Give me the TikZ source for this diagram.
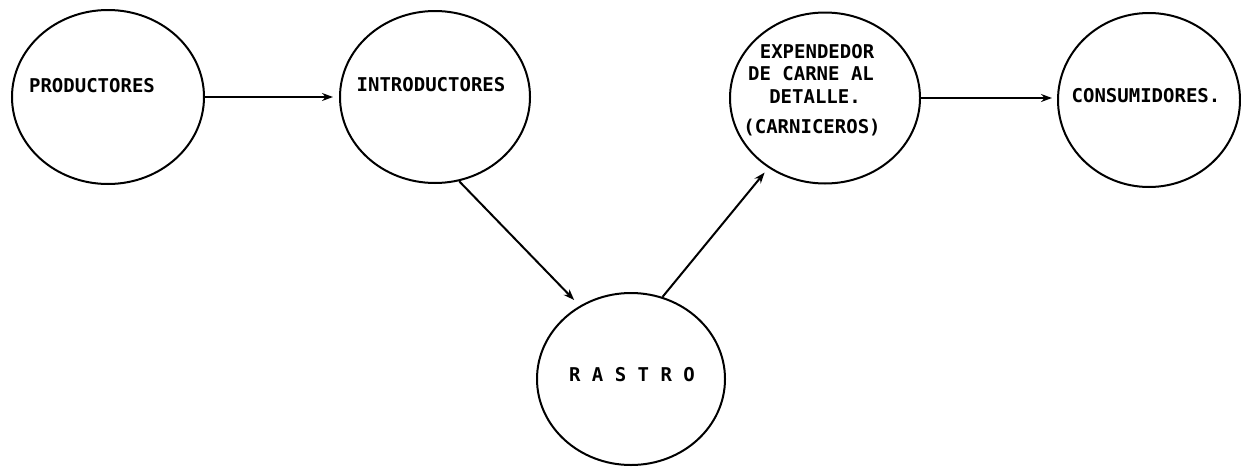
\documentclass[tikz,border=0pt]{standalone}
\usepackage{fontspec}
\setmonofont{DejaVu Sans Mono}
\usetikzlibrary{shapes.geometric,arrows.meta}
\begin{document}
\begin{tikzpicture}[x=1pt,y=-1pt,
  circ/.style={draw, ellipse, line width=2pt, inner sep=0pt},
  lbl/.style={font=\ttfamily\bfseries\fontsize{19}{23}\selectfont, inner sep=0pt},
  conn/.style={line width=2pt, -{Stealth[length=11pt,width=8pt]}},
  hconn/.style={conn, line width=2.6pt}]
\useasboundingbox (0,0) rectangle (1241,466);
\node[circ, minimum width=192, minimum height=174] (prod) at (108,97) {};
\node[circ, minimum width=190, minimum height=172] (intro) at (435,97) {};
\node[circ, minimum width=190, minimum height=171] (exp) at (825,98) {};
\node[circ, minimum width=182, minimum height=174] (cons) at (1149,100) {};
\node[circ, minimum width=188, minimum height=172] (rastro) at (631,379) {};
\node[lbl] (tprod) at (92,86) {PRODUCTORES};
\node[lbl] (tintro) at (431,85) {INTRODUCTORES};
\node[lbl] (tcons) at (1146,96) {CONSUMIDORES.};
\node[lbl] (trastro) at (632,375) {R A S T R O};
\node[lbl] (texp1) at (817,52) {EXPENDEDOR};
\node[lbl] (texp2) at (811,74) {DE CARNE AL};
\node[lbl] (texp3) at (815,97) {DETALLE.};
\node[lbl] (texp4) at (812,128) {(CARNICEROS)};
\draw[hconn, shorten >=6pt] (prod.east) -- (intro.west);
\draw[conn, shorten >=8pt] (intro.-74) -- (rastro.125);
\draw[conn, shorten >=6pt] (rastro.69) -- (exp.-129);
\draw[hconn, shorten >=5pt] (exp.east) -- (exp.east -| cons.west);
\end{tikzpicture}
\end{document}
